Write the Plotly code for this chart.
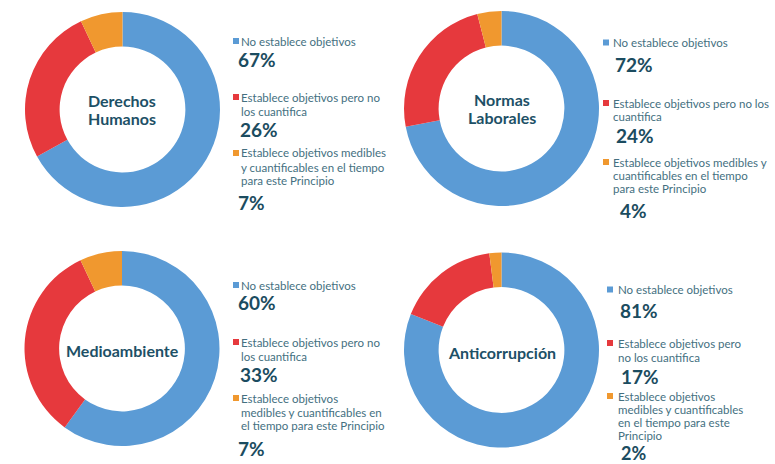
import plotly.graph_objects as go

W, H = 775, 464

# ---- data ----
titles = ["Derechos<br>Humanos", "Normas<br>Laborales", "Medioambiente", "Anticorrupción"]
categories = ["No establece objetivos",
              "Establece objetivos pero no los cuantifica",
              "Establece objetivos medibles y cuantificables en el tiempo para este Principio"]
values_dh = [67, 26, 7]
values_nl = [72, 24, 4]
values_ma = [60, 33, 7]
values_ac = [81, 17, 2]
pct_labels = [["67%", "26%", "7%"], ["72%", "24%", "4%"], ["60%", "33%", "7%"], ["81%", "17%", "2%"]]
# legend text as wrapped in each panel
legend_lines = [
    [["No establece objetivos"],
     ["Establece objetivos pero no", "los cuantifica"],
     ["Establece objetivos medibles", "y cuantificables en el tiempo", "para este Principio"]],
    [["No establece objetivos"],
     ["Establece objetivos pero no los", "cuantifica"],
     ["Establece objetivos medibles y", "cuantificables en el tiempo", "para este Principio"]],
    [["No establece objetivos"],
     ["Establece objetivos pero no", "los cuantifica"],
     ["Establece objetivos", "medibles y cuantificables en", "el tiempo para este Principio"]],
    [["No establece objetivos"],
     ["Establece objetivos pero", "no los cuantifica"],
     ["Establece objetivos", "medibles y cuantificables", "en el tiempo para este", "Principio"]],
]
series = [values_dh, values_nl, values_ma, values_ac]
colors = ["#5b9bd5", "#e6393d", "#f0982f"]

# ---- layout (pixel geometry) ----
donut_centers = [(122.5, 109.5), (501.5, 108.5), (122, 348.5), (501.5, 350)]
R = 97.5
text_x = [239, 611, 239, 616]
sq_x = [233, 603, 233, 607]
pct_x = [[236, 238, 236], [613, 614, 618], [236, 238, 236], [618, 619, 619]]
line_y = [
    [[41], [97, 111], [153, 167, 180]],
    [[42.5], [103, 116], [162, 175, 188]],
    [[285], [342, 356], [398, 412, 425]],
    [[289.5], [343, 357], [396, 409.5, 422.5, 435.5]],
]
pct_y = [[59.5, 129.5, 202.5], [64, 135, 210.5], [302.7, 374.5, 448.5], [310, 376.5, 453]]

LEG_COLOR = "#44707f"
PCT_COLOR = "#1b4c60"
TITLE_COLOR = "#1d5066"

def px(x):
    return x / W

def py(y):
    return 1 - y / H

fig = go.Figure()
annotations = []
shapes = []
for i, vals in enumerate(series):
    cx, cy = donut_centers[i]
    fig.add_trace(go.Pie(
        values=vals, labels=categories, sort=False, direction="clockwise", rotation=0,
        hole=0.645, marker=dict(colors=colors, line=dict(width=0)),
        textinfo="none", hoverinfo="label+percent", showlegend=False,
        domain=dict(x=[px(cx - R), px(cx + R)], y=[py(cy + R), py(cy - R)]),
    ))
    tlines = titles[i].split("<br>")
    n = len(tlines)
    for k, t in enumerate(tlines):
        yy = cy + (k - (n - 1) / 2) * 18 + (2 if n == 1 else 0)
        annotations.append(dict(x=px(cx), y=py(yy), xref="paper", yref="paper", text="<b>%s</b>" % t,
                                showarrow=False, xanchor="center", yanchor="middle",
                                font=dict(family="Lato", size=16, color=TITLE_COLOR)))
    for j in range(3):
        ys = line_y[i][j]
        for k, line in enumerate(legend_lines[i][j]):
            annotations.append(dict(x=px(text_x[i]), y=py(ys[k]), xref="paper", yref="paper", text=line,
                                    showarrow=False, xanchor="left", yanchor="middle",
                                    font=dict(family="Lato", size=11.5, color=LEG_COLOR)))
        s = 6
        shapes.append(dict(type="rect", xref="paper", yref="paper",
                           x0=px(sq_x[i]), x1=px(sq_x[i] + s),
                           y0=py(ys[0] + s / 2), y1=py(ys[0] - s / 2),
                           fillcolor=colors[j], line=dict(width=0)))
        fsize = 18 if (i == 3 and j == 2) else 19
        annotations.append(dict(x=px(pct_x[i][j]), y=py(pct_y[i][j]), xref="paper", yref="paper",
                                text="<b>%s</b>" % pct_labels[i][j], showarrow=False,
                                xanchor="left", yanchor="middle",
                                font=dict(family="Lato", size=fsize, color=PCT_COLOR)))

fig.update_layout(width=W, height=H, margin=dict(l=0, r=0, t=0, b=0),
                  paper_bgcolor="white", plot_bgcolor="white",
                  annotations=annotations, shapes=shapes)
fig.write_html("out.html")
